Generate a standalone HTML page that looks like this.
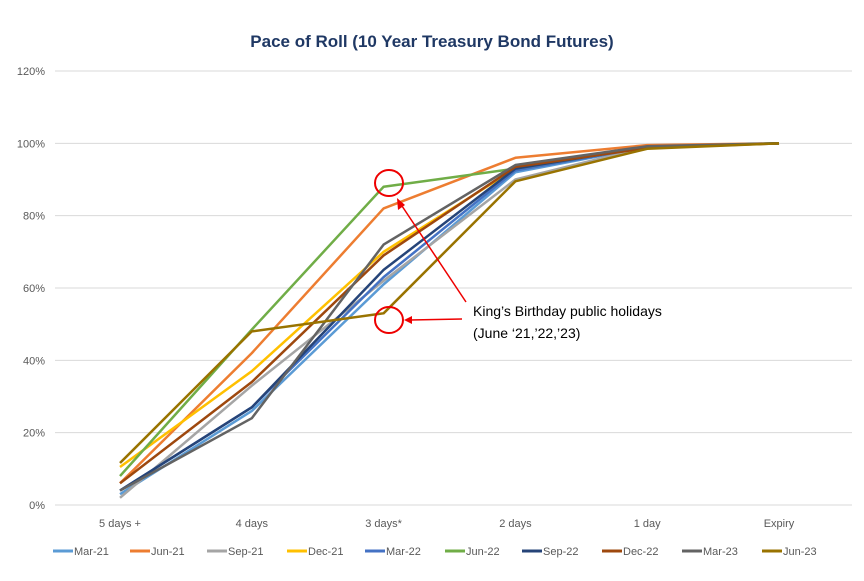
<!DOCTYPE html>
<html><head><meta charset="utf-8"><style>
body{margin:0;background:#fff;}
svg{display:block;font-family:"Liberation Sans",sans-serif;}
</style></head><body>
<svg id="chart" width="864" height="581" viewBox="0 0 864 581">
<text x="432" y="47" text-anchor="middle" font-size="17" font-weight="bold" fill="#1f3864">Pace of Roll (10 Year Treasury Bond Futures)</text>
<g id="grid"></g><g id="series"></g><g id="legend"></g>
<g>
<ellipse cx="389" cy="183" rx="14" ry="13" fill="none" stroke="#e00" stroke-width="2"/>
<ellipse cx="389" cy="320" rx="14" ry="13" fill="none" stroke="#e00" stroke-width="2"/>
<line x1="466" y1="302" x2="400" y2="203" stroke="#e00" stroke-width="1.5"/>
<polygon points="397,198 398,210 405,205" fill="#e00"/>
<line x1="462" y1="319" x2="410" y2="320" stroke="#e00" stroke-width="1.5"/>
<polygon points="404,320 412,316 412,324" fill="#e00"/>
<text x="473" y="316" font-size="14" fill="#000">King’s Birthday public holidays</text>
<text x="473" y="338" font-size="14" fill="#000">(June ‘21,’22,’23)</text>
</g>
</svg>
<script>
const categories=["5 days +","4 days","3 days*","2 days","1 day","Expiry"];
const yTicks=[0,20,40,60,80,100,120];
const seriesNames=["Mar-21","Jun-21","Sep-21","Dec-21","Mar-22","Jun-22","Sep-22","Dec-22","Mar-23","Jun-23"];
const seriesColors=["#5b9bd5","#ed7d31","#a5a5a5","#ffc000","#4472c4","#70ad47","#264478","#9e480e","#636363","#997300"];
const mar21=[3,26,61,92,99,100];
const jun21=[6,42,82,96,99.5,100];
const sep21=[2,33,62,90,99,100];
const dec21=[10.5,37,70,93,99,100];
const mar22=[4,27,63,92.5,99,100];
const jun22=[8,48.5,88,93,99,100];
const sep22=[4,27,65,93,99,100];
const dec22=[6,34,69,93.5,98.7,100];
const mar23=[4,24,72,94,99.2,100];
const jun23=[11.6,48,53,89.5,98.5,100];
const seriesValues=[mar21,jun21,sep21,dec21,mar22,jun22,sep22,dec22,mar23,jun23];
const NS="http://www.w3.org/2000/svg";
const x0=55,x1=852,y0=505,y120=71;
const xs=i=>120+131.8*i;
const ys=v=>y0-(y0-y120)*v/120;
function mk(t,a,p){const e=document.createElementNS(NS,t);for(const k in a)e.setAttribute(k,a[k]);p.appendChild(e);return e;}
const grid=document.getElementById('grid');
yTicks.forEach(t=>{
 const l=mk('line',{x1:x0,x2:x1,y1:ys(t),y2:ys(t),stroke:'#d9d9d9','stroke-width':1},grid);
 
 
 const tx=mk('text',{x:45,y:ys(t)+4,'text-anchor':'end','font-size':11,fill:'#595959'},grid);
 tx.textContent=t+'%';
 
 
});
categories.forEach((c,i)=>{
 const tx=mk('text',{x:xs(i),y:527,'text-anchor':'middle','font-size':11,fill:'#595959'},grid);
 tx.textContent=c;
 
 
});
const sg=document.getElementById('series');
seriesValues.forEach((vals,s)=>{
 const pts=vals.map((v,i)=>xs(i)+','+ys(v)).join(' ');
 const p=mk('polyline',{points:pts,fill:'none',stroke:seriesColors[s],'stroke-width':2.5,'stroke-linejoin':'round'},sg);
 
 
});
const lg=document.getElementById('legend');
const lw=[77,77,80,78,80,77,80,80,80,75];
let lx=53;
seriesNames.forEach((n,s)=>{
 const g=mk('g',{},lg);
 
 
 mk('line',{x1:lx,x2:lx+20,y1:551,y2:551,stroke:seriesColors[s],'stroke-width':3},g);
 const t=mk('text',{x:lx+21,y:555,'font-size':11,fill:'#595959'},g);
 t.textContent=n;
 lx+=lw[s];
});
</script>
</body></html>
